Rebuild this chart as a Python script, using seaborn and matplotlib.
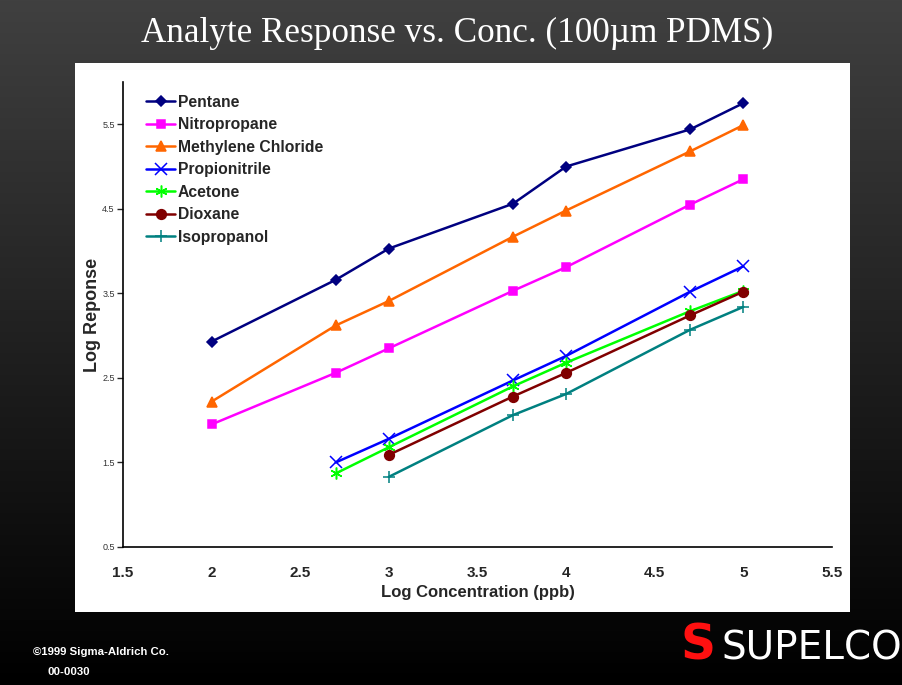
import numpy as np
import pandas as pd
import matplotlib
matplotlib.use("Agg")
import matplotlib.pyplot as plt
import seaborn as sns
from matplotlib.patches import Rectangle
from matplotlib.colors import LinearSegmentedColormap

# ---- data ----
log_conc = [2.0, 2.7, 3.0, 3.7, 4.0, 4.7, 5.0]
pentane = [2.93, 3.66, 4.03, 4.56, 5.00, 5.44, 5.75]
nitropropane = [1.95, 2.56, 2.85, 3.53, 3.81, 4.55, 4.85]
methylene_chloride = [2.22, 3.12, 3.41, 4.17, 4.48, 5.18, 5.49]
propionitrile = [None, 1.50, 1.78, 2.47, 2.76, 3.52, 3.82]
acetone = [None, 1.37, 1.68, 2.40, 2.68, 3.29, 3.53]
dioxane = [None, None, 1.59, 2.28, 2.56, 3.24, 3.52]
isopropanol = [None, None, 1.33, 2.06, 2.31, 3.07, 3.34]
series_names = ["Pentane", "Nitropropane", "Methylene Chloride", "Propionitrile",
                "Acetone", "Dioxane", "Isopropanol"]
series_values = [pentane, nitropropane, methylene_chloride, propionitrile,
                 acetone, dioxane, isopropanol]
x_ticks = [1.5, 2, 2.5, 3, 3.5, 4, 4.5, 5, 5.5]
y_ticks = [0.5, 1.5, 2.5, 3.5, 4.5, 5.5]

colors = ["#000080", "#FF00FF", "#FF6600", "#0000FF", "#00FF00", "#800000", "#008080"]
markers = ["D", "s", "^", "x", (6, 2, 0), "o", "+"]
msizes = [5.5, 6, 7, 8, 8.5, 7, 9]

sns.set_theme(style="white")
plt.rcParams['font.family'] = ['Liberation Sans', 'DejaVu Sans']

fig = plt.figure(figsize=(9.02, 6.85), dpi=100)

# background gradient
bg = fig.add_axes([0, 0, 1, 1], zorder=-10)
grad = np.linspace(0, 1, 256).reshape(-1, 1)
cmap = LinearSegmentedColormap.from_list("bg", ["#404040", "#000000"])
bg.imshow(grad, aspect="auto", cmap=cmap, extent=[0, 1, 0, 1], origin="upper")
bg.set_axis_off()
bg.add_patch(Rectangle((75 / 902, 1 - 612 / 685), (850 - 75) / 902, (612 - 63) / 685,
                       transform=bg.transAxes, facecolor="white", edgecolor="none"))

ax = fig.add_axes([123 / 902, 1 - 547 / 685, (832 - 123) / 902, (547 - 82) / 685])
ax.set_facecolor("none")

for name, vals, c, m, ms in zip(series_names, series_values, colors, markers, msizes):
    df = pd.DataFrame({"x": log_conc, "y": vals}).dropna()
    sns.lineplot(data=df, x="x", y="y", ax=ax, color=c, marker=m, markersize=ms,
                 linewidth=1.8, label=name, markeredgecolor=c, markeredgewidth=1.1)

ax.set_xlim(1.5, 5.5)
ax.set_ylim(0.5, 6.0)
ax.set_xticks(x_ticks)
ax.set_xticklabels([f"{t:g}" for t in x_ticks], fontsize=11, fontweight="bold")
ax.set_yticks(y_ticks)
ax.set_yticklabels([f"{t:g}" for t in y_ticks], fontsize=6.5, color="#333333")
ax.tick_params(axis="y", length=4, width=1, direction="out", left=True, pad=2)
ax.tick_params(axis="x", length=0, pad=14)
for s in ["top", "right"]:
    ax.spines[s].set_visible(False)
for s in ["left", "bottom"]:
    ax.spines[s].set_color("black")
    ax.spines[s].set_linewidth(1.2)
ax.set_xlabel("Log Concentration (ppb)", fontsize=12, fontweight="bold")
ax.xaxis.set_label_coords(0.5, -(585 - 547) / (547 - 82), transform=ax.transAxes)
ax.set_ylabel("Log Reponse", fontsize=13, fontweight="bold")
ax.yaxis.set_label_coords(-(123 - 93) / (832 - 123), 0.5)
ax.yaxis.label.set_va("center")

leg = ax.legend(loc="upper left", bbox_to_anchor=(0.013, 1.003), frameon=False,
                prop={"weight": "bold", "size": 11.3}, handlelength=1.85,
                labelspacing=0.48, handletextpad=0.15)

fig.text(0.507, 1 - 33 / 685, "Analyte Response vs. Conc. (100\u00b5m PDMS)", color="white",
         fontsize=25.3, family="Liberation Serif", ha="center", va="center")
fig.text(33 / 902, 1 - 652 / 685, "\u00a91999 Sigma-Aldrich Co.", color="white",
         fontsize=8.2, fontweight="bold", va="center")
fig.text(47 / 902, 1 - 672 / 685, "00-0030", color="white",
         fontsize=8.2, fontweight="bold", va="center")
fig.text(681 / 902, 1 - 646 / 685, "S", color="#FF1010", fontsize=35, fontweight="heavy",
         family="DejaVu Sans", va="center", ha="left")
fig.text(722 / 902, 1 - 648 / 685, "SUPELCO", color="white", fontsize=28,
         family="DejaVu Sans", va="center", ha="left")

fig.savefig("out.png", dpi=100)
